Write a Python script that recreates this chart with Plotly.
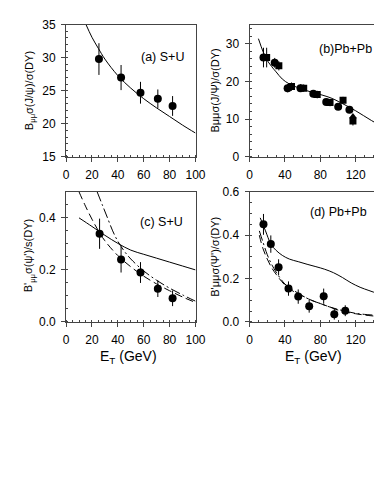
"""J/psi and psi' suppression vs E_T — four panel figure."""

import plotly.graph_objects as go

FONT = "Liberation Sans, Arial, sans-serif"

# (a) S+U  J/psi
a_et = [25.4, 42.5, 57.5, 70.9, 82.3]
a_val = [29.8, 27.0, 24.7, 23.8, 22.7]
a_err = [2.4, 1.9, 1.65, 1.4, 1.5]
a_curve_x = [15, 20, 25, 30, 40, 50, 60, 70, 80, 90, 100]
a_curve_y = [35.2, 33.1, 31.4, 29.8, 27.3, 25.4, 23.8, 22.4, 21.1, 19.8, 18.6]

# (b) Pb+Pb  J/psi
b_circ_x = [15.7, 28.4, 43.0, 57.6, 72.1, 86.7, 100.2, 112.9]
b_circ_y = [26.3, 24.9, 18.2, 18.2, 16.7, 14.5, 13.3, 12.5]
b_circ_e = [2.6, 1.3, 1.1, 1.0, 1.0, 0.9, 0.9, 0.9]
b_sq_x = [19.3, 33.1, 47.4, 61.2, 76.5, 91.0, 105.7, 116.9]
b_sq_y = [26.3, 24.1, 18.6, 18.2, 16.5, 14.4, 15.0, 9.5]
b_sq_e = [2.6, 1.2, 1.1, 1.0, 1.0, 1.0, 0.9, 1.2]
b_tri_x = [116.9]
b_tri_y = [10.7]
b_curve_x = [10, 15, 19, 25, 30, 37, 45, 55, 65, 74, 83, 92, 101, 110, 120, 129, 138, 147]
b_curve_y = [31.3, 28.0, 25.9, 23.9, 22.5, 20.6, 19.3, 18.3, 17.5, 16.9, 16.3, 15.6,
             14.6, 13.5, 12.2, 10.9, 9.6, 8.4]

# (c) S+U  psi'
c_et = [25.9, 42.5, 57.5, 70.9, 82.3]
c_val = [0.339, 0.240, 0.190, 0.128, 0.091]
c_err = [0.058, 0.050, 0.040, 0.032, 0.030]
c_solid_x = [10, 20, 30, 40, 50, 60, 70, 80, 90, 100]
c_solid_y = [0.400, 0.367, 0.333, 0.302, 0.276, 0.260, 0.245, 0.230, 0.215, 0.200]
c_dash_x = [10, 15, 20, 25, 30, 40, 50, 60, 70, 80, 90, 100]
c_dash_y = [0.50, 0.445, 0.395, 0.350, 0.312, 0.255, 0.212, 0.176, 0.146, 0.120, 0.096, 0.075]
c_dd_x = [24, 28, 32, 36, 40, 45, 50, 60, 70, 80, 90, 100]
c_dd_y = [0.50, 0.45, 0.40, 0.35, 0.31, 0.272, 0.242, 0.196, 0.160, 0.130, 0.104, 0.080]

# (d) Pb+Pb  psi'
d_et = [15.7, 24.0, 32.8, 44.0, 55.0, 67.4, 83.8, 95.8, 108.2]
d_val = [0.450, 0.359, 0.252, 0.154, 0.117, 0.073, 0.119, 0.036, 0.052]
d_err = [0.048, 0.040, 0.037, 0.033, 0.033, 0.030, 0.035, 0.025, 0.025]
d_solid_x = [12, 18, 24, 30, 37, 45, 55, 65, 75, 85, 95, 105, 115, 125, 135, 147]
d_solid_y = [0.48, 0.42, 0.36, 0.33, 0.307, 0.290, 0.278, 0.266, 0.255, 0.243, 0.227,
             0.205, 0.180, 0.160, 0.145, 0.128]
d_dash_x = [11, 15, 20, 25, 30, 40, 50, 60, 70, 80, 90, 100, 110, 120, 130, 147]
d_dash_y = [0.40, 0.34, 0.29, 0.25, 0.22, 0.17, 0.14, 0.12, 0.10, 0.085, 0.07, 0.055,
            0.045, 0.038, 0.032, 0.025]
d_dd_x = [11, 15, 20, 25, 30, 35, 40, 50, 60, 70, 80, 90, 100, 110, 120, 130, 147]
d_dd_y = [0.42, 0.37, 0.31, 0.265, 0.23, 0.20, 0.175, 0.145, 0.12, 0.10, 0.085, 0.07,
          0.058, 0.048, 0.04, 0.035, 0.03]

W, H = 382, 491


def px_x(a, b):
    return [a / W, b / W]


def px_y(top, bottom):
    return [1 - bottom / H, 1 - top / H]


fig = go.Figure()


def points(x, y, err, xa, ya, symbol="circle", size=8):
    fig.add_trace(go.Scatter(
        x=x, y=y, mode="markers", xaxis=xa, yaxis=ya,
        marker=dict(color="black", size=size, symbol=symbol),
        error_y=dict(type="data", array=err, color="black", thickness=1, width=0)
        if err is not None else None,
        showlegend=False,
    ))


def curve(x, y, xa, ya, dash="solid"):
    fig.add_trace(go.Scatter(
        x=x, y=y, mode="lines", xaxis=xa, yaxis=ya,
        line=dict(color="black", width=1, dash=dash, shape="spline"),
        showlegend=False, hoverinfo="skip",
    ))


# panel a
curve(a_curve_x, a_curve_y, "x", "y")
points(a_et, a_val, a_err, "x", "y")

# panel b
curve(b_curve_x, b_curve_y, "x2", "y2")
points(b_circ_x, b_circ_y, b_circ_e, "x2", "y2")
points(b_sq_x, b_sq_y, b_sq_e, "x2", "y2", symbol="square", size=7)
points(b_tri_x, b_tri_y, None, "x2", "y2", symbol="triangle-up", size=7)

# panel c
curve(c_solid_x, c_solid_y, "x3", "y3")
curve(c_dash_x, c_dash_y, "x3", "y3", dash="8px,4px")
curve(c_dd_x, c_dd_y, "x3", "y3", dash="10px,3px,2px,3px")
points(c_et, c_val, c_err, "x3", "y3")

# panel d
curve(d_solid_x, d_solid_y, "x4", "y4")
curve(d_dash_x, d_dash_y, "x4", "y4", dash="8px,4px")
curve(d_dd_x, d_dd_y, "x4", "y4", dash="10px,3px,2px,3px")
points(d_et, d_val, d_err, "x4", "y4")

axis_common = dict(
    showgrid=False, zeroline=False, showline=True, mirror=True,
    linecolor="#444", linewidth=1, ticks="outside", ticklen=4, tickcolor="#444",
    tickfont=dict(family=FONT, size=12, color="black"),
)


def xax(domain, anchor, rng, dtick, minor):
    return dict(axis_common, domain=domain, anchor=anchor, range=rng, dtick=dtick,
                tick0=0, ticklabelstandoff=3,
                minor=dict(ticks="inside", ticklen=2, dtick=minor, tick0=0, tickcolor="#444"))


def yax(domain, anchor, rng, tickvals, fmt, minor):
    return dict(axis_common, domain=domain, anchor=anchor, range=rng, tickvals=tickvals,
                tickformat=fmt, ticklabelstandoff=3,
                minor=dict(ticks="inside", ticklen=2, dtick=minor, tick0=0, tickcolor="#444"))


left = px_x(57, 191)
right = px_x(247, 382)
top = px_y(10, 146)
bottom = px_y(182, 316)

fig.update_layout(
    width=W, height=H,
    margin=dict(l=0, r=0, t=0, b=0),
    paper_bgcolor="white", plot_bgcolor="white",
    font=dict(family=FONT, color="black"),
    xaxis=xax(left, "y", [0, 100], 20, 5),
    yaxis=yax(top, "x", [15, 35], [15, 20, 25, 30, 35], "d", 1),
    xaxis2=xax(right, "y2", [0, 147.5], 40, 10),
    yaxis2=yax(top, "x2", [0, 35], [0, 10, 20, 30], "d", 2),
    xaxis3=xax(left, "y3", [0, 100], 20, 5),
    yaxis3=yax(bottom, "x3", [0, 0.5], [0, 0.2, 0.4], ".1f", 0.05),
    xaxis4=xax(right, "y4", [0, 147.5], 40, 10),
    yaxis4=yax(bottom, "x4", [0, 0.6], [0, 0.2, 0.4, 0.6], ".1f", 0.05),
)

txt = dict(family=FONT, size=12.5, color="black")
ytxt = dict(family=FONT, size=11, color="black")


def note(x, y, text, font, angle=0):
    fig.add_annotation(x=x / W, y=1 - y / H, xref="paper", yref="paper", text=text,
                       showarrow=False, font=font, textangle=angle,
                       xanchor="center", yanchor="middle")


note(157, 43, "(a) S+U", txt)
note(346, 35, "(b)Pb+Pb", txt)
note(156, 213, "(c) S+U", txt)
note(339, 203, "(d) Pb+Pb", txt)

note(19, 78, "B<sub>μμ</sub>σ(J/ψ)/σ(DY)", ytxt, -90)
note(211, 78, "Bμμσ(J/Ψ)/σ(DY)", ytxt, -90)
note(19, 247, "B'<sub>μμ</sub>σ(ψ')/s(DY)", ytxt, -90)
note(211, 249, "B'μμσ(Ψ')/σ(DY)", ytxt, -90)

note(122, 352, "E<sub>T</sub> (GeV)", dict(family=FONT, size=14, color="black"))
note(313, 352, "E<sub>T</sub> (GeV)", dict(family=FONT, size=14, color="black"))

fig.write_html("out.html")
